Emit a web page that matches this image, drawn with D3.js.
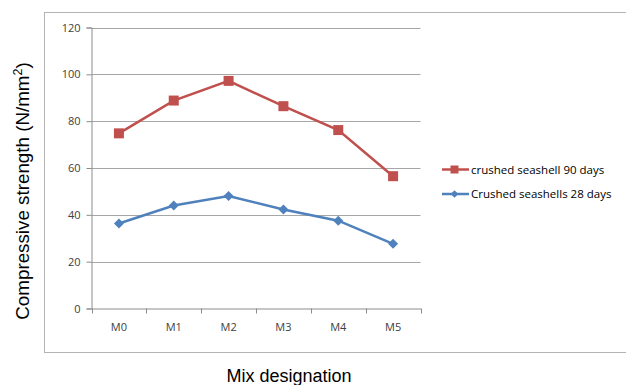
<!DOCTYPE html>
<html><head><meta charset="utf-8">
<script src="https://cdn.jsdelivr.net/npm/d3@7"></script>
<style>body{margin:0;background:#fff}svg{display:block}</style>
</head><body>
<svg id="c" width="626" height="385"></svg>
<script>
const categories = ["M0","M1","M2","M3","M4","M5"];
const days90 = [74.8, 88.8, 97.2, 86.4, 76.2, 56.5];
const days28 = [36.3, 44.0, 48.0, 42.3, 37.5, 27.6];
const yTicks = [0,20,40,60,80,100,120];
const seriesNames = ["crushed seashell 90 days","Crushed seashells 28 days"];

(function(){
const svg = d3.select("#c");
const W = 626, H = 385;
const pL = 91.5, pR = 420.5, pT = 27.5, pB = 308.5;
const red = "#C0504D", blue = "#4F81BD";
const fontTick = "'Open Sans', 'Liberation Sans', sans-serif";

// outer border
svg.append("rect").attr("x",44.5).attr("y",12.5).attr("width",W-44).attr("height",340)
  .attr("fill","none").attr("stroke","#b3b3b3").attr("stroke-width",1);

const x = d3.scaleBand().domain(categories).range([pL,pR]).padding(0);
const y = d3.scaleLinear().domain([0,120]).range([pB,pT]);

// gridlines
svg.append("g").selectAll("line").data(yTicks.filter(d=>d>0)).join("line")
  .attr("x1",pL).attr("x2",pR).attr("y1",d=>Math.round(y(d))+0.5).attr("y2",d=>Math.round(y(d))+0.5)
  .attr("stroke","#a6a6a6").attr("stroke-width",1);

// y axis
const ya = svg.append("g").attr("transform",`translate(${pL},0)`)
  .call(d3.axisLeft(y).tickValues(yTicks).tickSize(5).tickPadding(6));
ya.select(".domain").attr("stroke","#8c8c8c");
ya.selectAll(".tick line").attr("stroke","#8c8c8c");
ya.selectAll("text").attr("font-family",fontTick).attr("font-size",11).attr("fill","#404040");

// x axis
const xa = svg.append("g").attr("transform",`translate(0,${pB})`)
  .call(d3.axisBottom(x).tickSize(0).tickPadding(15));
xa.select(".domain").attr("stroke","#8c8c8c");
xa.selectAll("text").attr("font-family",fontTick).attr("font-size",11).attr("fill","#404040");
const bounds = categories.map(c=>x(c)).concat([x(categories[categories.length-1])+x.bandwidth()]);
svg.append("g").selectAll("line").data(bounds).join("line")
  .attr("x1",d=>Math.round(d)+0.5).attr("x2",d=>Math.round(d)+0.5)
  .attr("y1",pB).attr("y2",pB+5).attr("stroke","#8c8c8c");

const cx = c => x(c)+x.bandwidth()/2;
const line = d3.line().x((d,i)=>cx(categories[i])).y(d=>y(d));

// series 28 days
svg.append("path").datum(days28).attr("d",line).attr("fill","none").attr("stroke",blue).attr("stroke-width",2.5);
svg.append("g").selectAll("path").data(days28).join("path")
  .attr("d", d3.symbol().type(d3.symbolSquare).size(50))
  .attr("transform",(d,i)=>`translate(${cx(categories[i])},${y(d)}) rotate(45)`)
  .attr("fill",blue);

// series 90 days
svg.append("path").datum(days90).attr("d",line).attr("fill","none").attr("stroke",red).attr("stroke-width",2.5);
svg.append("g").selectAll("rect").data(days90).join("rect")
  .attr("x",(d,i)=>cx(categories[i])-5).attr("y",d=>y(d)-5)
  .attr("width",10).attr("height",10).attr("fill",red);

// axis titles
svg.append("text").attr("transform","translate(29,191) rotate(-90)")
  .attr("text-anchor","middle").attr("font-family","'Liberation Sans', Arial, sans-serif")
  .attr("font-size",18.8).attr("fill","#000")
  .html('Compressive strength (N/mm<tspan dy="-7" font-size="12.5">2</tspan><tspan dy="7">)</tspan>');
svg.append("text").attr("x",289).attr("y",382).attr("text-anchor","middle")
  .attr("font-family","'Liberation Sans', Arial, sans-serif").attr("font-size",18).attr("fill","#000")
  .text("Mix designation");

// legend
const lg = svg.append("g");
const legendItems = [{name:seriesNames[0],color:red,shape:"square",yy:169.5},{name:seriesNames[1],color:blue,shape:"diamond",yy:194}];
legendItems.forEach(it=>{
  lg.append("line").attr("x1",442).attr("x2",469).attr("y1",it.yy).attr("y2",it.yy)
    .attr("stroke",it.color).attr("stroke-width",2.5);
  if(it.shape==="square"){
    lg.append("rect").attr("x",450.5).attr("y",it.yy-4).attr("width",8).attr("height",8).attr("fill",it.color);
  } else {
    lg.append("path").attr("d",d3.symbol().type(d3.symbolSquare).size(30))
      .attr("transform",`translate(454.5,${it.yy}) rotate(45)`).attr("fill",it.color);
  }
  lg.append("text").attr("x",471).attr("y",it.yy).attr("dy","0.35em")
    .attr("font-family",fontTick).attr("font-size",11.5).attr("fill","#000").text(it.name);
});
})();
</script>
</body></html>
